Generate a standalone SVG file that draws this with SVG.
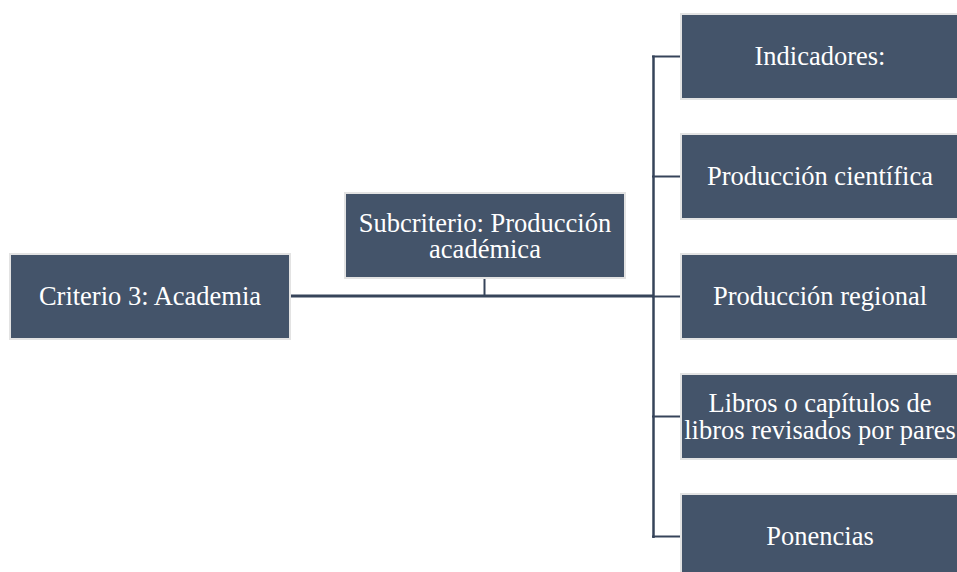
<svg xmlns="http://www.w3.org/2000/svg" width="957" height="572" viewBox="0 0 957 572">
<style>
.box{fill:#44546a;stroke:#e3e3e3;stroke-width:2}
.t{font-size:26.5px;fill:#ffffff;text-anchor:middle}
.c{stroke:#36445a;fill:none}
</style>
<rect width="957" height="572" fill="#ffffff"/>
<g id="connectors">
<line class="c" x1="290" y1="296" x2="654" y2="296" stroke-width="3"/>
<line class="c" x1="484.5" y1="279" x2="484.5" y2="296" stroke-width="2"/>
<line class="c" x1="653.5" y1="55.5" x2="653.5" y2="538" stroke-width="2.5"/>
<line class="c" x1="652" y1="56.5" x2="681" y2="56.5" stroke-width="2"/>
<line class="c" x1="652" y1="176.5" x2="681" y2="176.5" stroke-width="2"/>
<line class="c" x1="652" y1="296.5" x2="681" y2="296.5" stroke-width="2"/>
<line class="c" x1="652" y1="416.5" x2="681" y2="416.5" stroke-width="2"/>
<line class="c" x1="652" y1="536.5" x2="681" y2="536.5" stroke-width="2"/>
</g>
<g font-family="'Liberation Serif', Tinos, 'Times New Roman', 'DejaVu Serif', serif">
<g id="criterio">
<rect class="box" x="10" y="254" width="280" height="85"/>
<text class="t" x="150" y="305">Criterio 3: Academia</text>
</g>
<g id="subcriterio">
<rect class="box" x="345" y="193" width="280" height="85"/>
<text class="t" x="485" y="232">Subcriterio: Producción</text>
<text class="t" x="485" y="258">académica</text>
</g>
<g id="indicadores">
<rect class="box" x="681" y="14" width="280" height="85"/>
<text class="t" x="820" y="65">Indicadores:</text>
</g>
<g id="produccion-cientifica">
<rect class="box" x="681" y="134" width="280" height="85"/>
<text class="t" x="820" y="185">Producción científica</text>
</g>
<g id="produccion-regional">
<rect class="box" x="681" y="254" width="280" height="85"/>
<text class="t" x="820" y="305">Producción regional</text>
</g>
<g id="libros">
<rect class="box" x="681" y="374" width="280" height="85"/>
<text class="t" x="820" y="412">Libros o capítulos de</text>
<text class="t" x="820" y="439">libros revisados por pares</text>
</g>
<g id="ponencias">
<rect class="box" x="681" y="494" width="280" height="85"/>
<text class="t" x="820" y="545">Ponencias</text>
</g>
</g>
</svg>
